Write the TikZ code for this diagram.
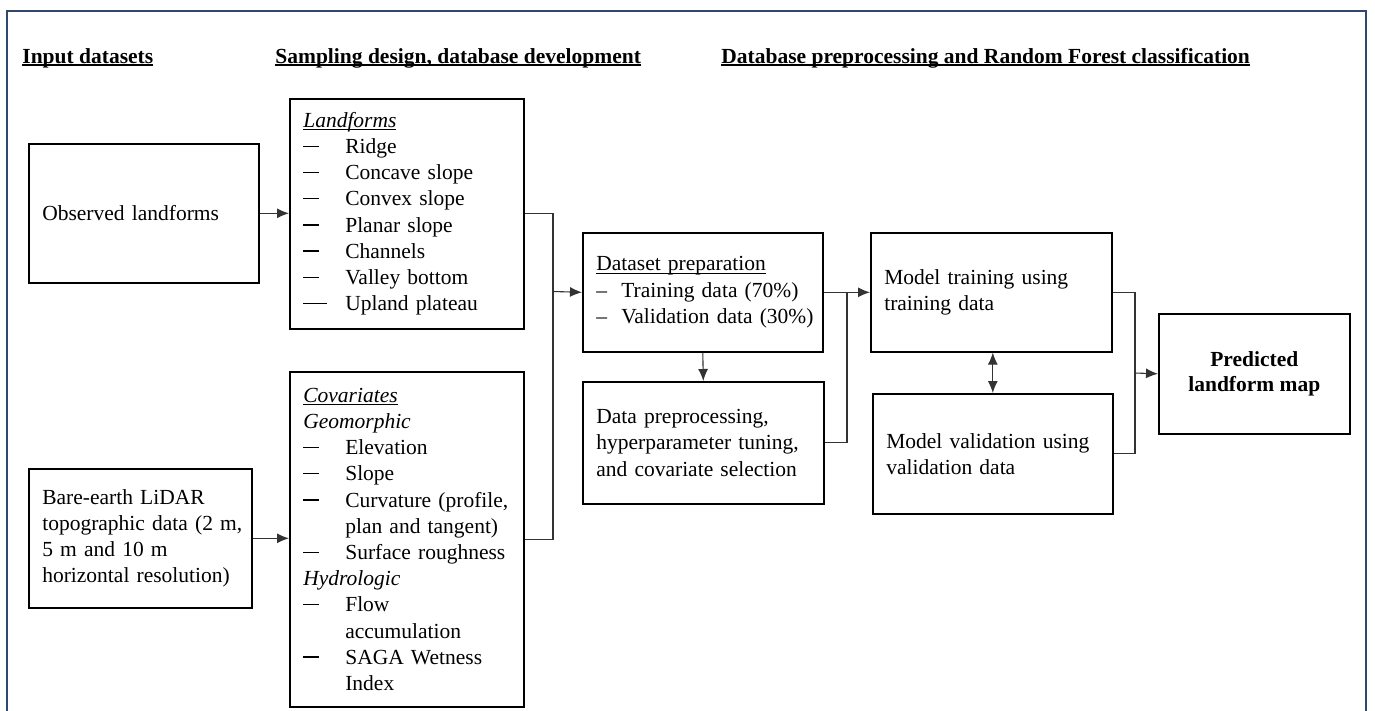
\documentclass[tikz,border=0pt]{standalone}
\usepackage{fontspec}
\setmainfont{Liberation Serif}
\usetikzlibrary{arrows.meta}
\definecolor{framecol}{RGB}{47,72,108}
\newcommand\itm[2][16pt]{\makebox[42pt][l]{\rule[6.5pt]{#1}{1.4pt}}\mbox{#2}}
\newcommand\sub[1]{\makebox[25pt][l]{--}\mbox{#1}}
\newcommand\undl[2][1.3pt]{\setbox0\hbox{#2}\rlap{\rule[-3pt]{\wd0}{#1}}\box0}

\begin{document}
\begin{tikzpicture}[x=1pt, y=-1pt, thick,
  main/.style = {draw, line width=1.6pt, rectangle, anchor=north west, inner xsep=13.5pt, align=left, font=\fontsize{21.5}{26.2}\selectfont},
  head/.style = {anchor=base west, inner sep=0pt, font=\fontsize{21.5}{26.2}\selectfont\bfseries},
  link/.style = {line width=1.1pt, draw=black!80},
  arr/.style = {link, -{Latex[length=12pt,width=10pt]}},
  dbl/.style = {link, {Latex[length=12pt,width=10pt]}-{Latex[length=12pt,width=10pt]}}]
\useasboundingbox (0,0) rectangle (1375,710);
\draw[framecol, line width=2.6pt] (7,712) -- (7,11) -- (1366,11) -- (1366,712);

\node[head] (h1) at (22,63) {\undl[2.4pt]{Input datasets}};
\node[head] (h2) at (275,63) {\undl[2.4pt]{Sampling design, database development}};
\node[head] (h3) at (721,63) {\undl[2.4pt]{Database preprocessing and Random Forest classification}};

\node[main, minimum width=230, minimum height=139, text width=203] (1) at (28,143) {Observed landforms};
\node[main, minimum width=223, minimum height=139, text width=196] (2) at (28,468) {Bare-earth LiDAR\\ \mbox{topographic data (2~m,}\\ 5~m and 10~m\\ horizontal resolution)};
\node[main, minimum width=234, minimum height=230, text width=207] (3) at (289,98) {\undl{\itshape Landforms}\\ \itm{Ridge}\\ \itm{Concave slope}\\ \itm{Convex slope}\\ \itm{Planar slope}\\ \itm{Channels}\\ \itm{Valley bottom}\\ \itm[24pt]{Upland plateau}};
\node[main, minimum width=234, minimum height=335, text width=207] (4) at (289,371) {\undl{\itshape Covariates}\\ \textit{Geomorphic}\\ \itm{Elevation}\\ \itm{Slope}\\ \itm{Curvature (profile,}\\ \hspace*{42pt}plan and tangent)\\ \itm{Surface roughness}\\ \textit{Hydrologic}\\ \itm{Flow}\\ \hspace*{42pt}accumulation\\ \itm{SAGA Wetness}\\ \hspace*{42pt}Index};
\node[main, minimum width=240, minimum height=119, text width=213] (5) at (582,232) {\undl{Dataset preparation}\\ \sub{Training data (70\%)}\\ \sub{Validation data (30\%)}};
\node[main, minimum width=241, minimum height=122, text width=214] (6) at (582,381) {Data preprocessing,\\ hyperparameter tuning,\\ and covariate selection};
\node[main, minimum width=241, minimum height=119, text width=214] (7) at (870,232) {Model training using\\ training data};
\node[main, minimum width=240, minimum height=120, text width=213] (8) at (872,393) {Model validation using\\ validation data};
\node[main, minimum width=191, minimum height=120, align=center, font=\fontsize{21.5}{25}\selectfont\bfseries] (9) at (1158,313) {Predicted\\ landform map};

\coordinate (a) at (553,291.5);
\coordinate (b) at (847,291.5);
\coordinate (c) at (1135,373);

\draw[arr] (1) -- (3.west |- 1);
\draw[arr] (2) -- (4.west |- 2);
\draw[link] (3.east) -| (a) |- (4.east);
\draw[arr] (a) -- (5.west);
\draw[arr] (5.south) -- (6.north);
\draw[arr] (5.east) -- (7.west);
\draw[link] (6.east) -| (b);
\draw[link] (7.east) -| (c) |- (8.east);
\draw[arr] (c) -- (9.west);
\draw[dbl] (7.south -| 8.north) -- (8.north);
\end{tikzpicture}
\end{document}
